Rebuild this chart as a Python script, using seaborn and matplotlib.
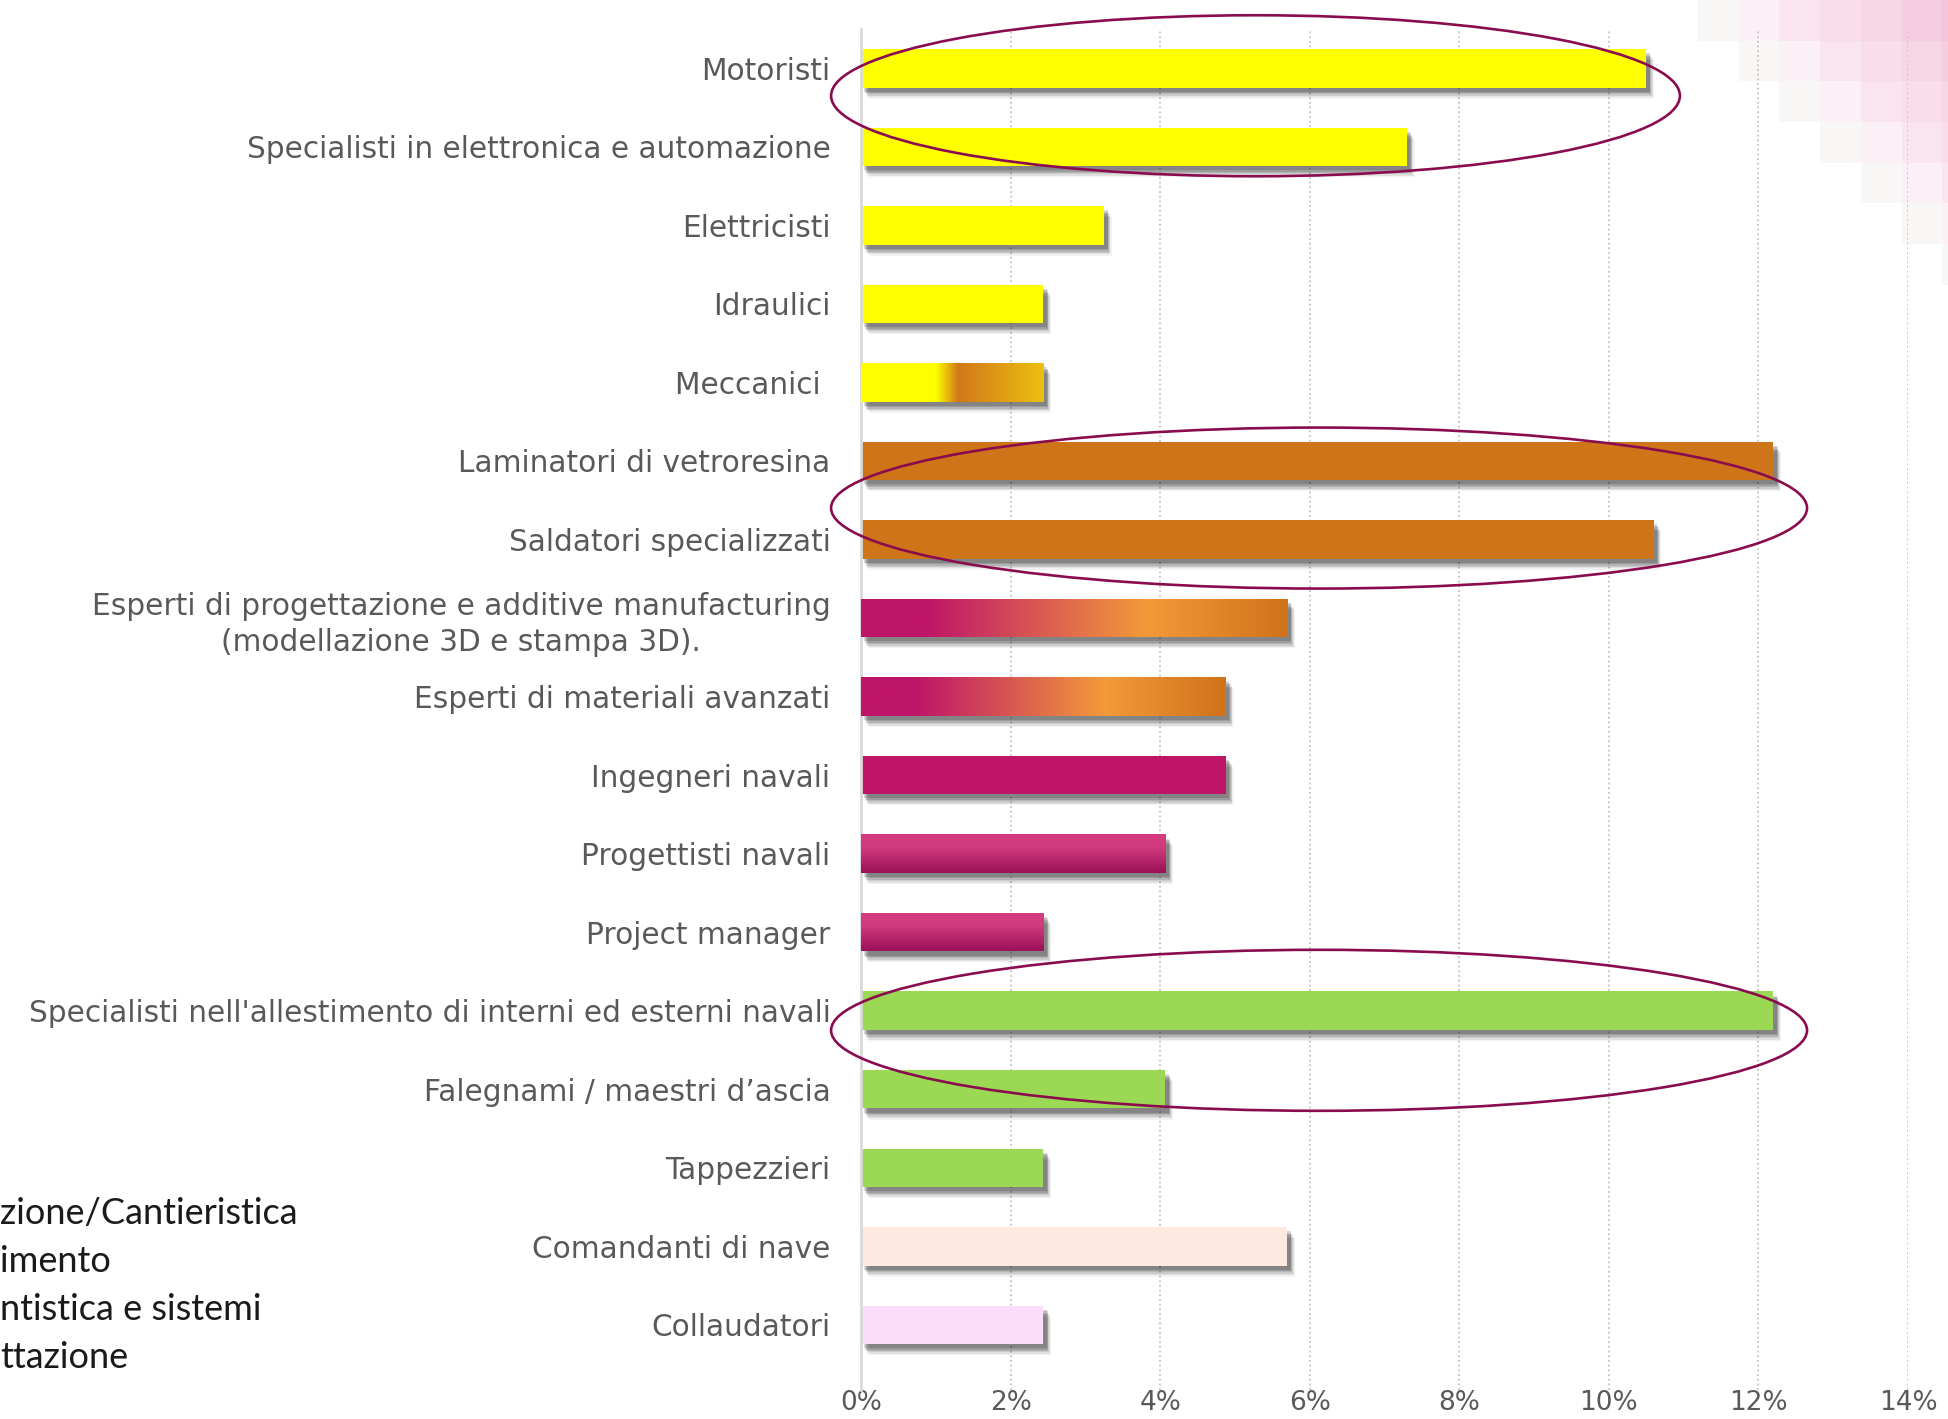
"""Profili professionali ricercati: quota percentuale per figura, con gruppi evidenziati."""

import matplotlib.pyplot as plt
import numpy as np
import seaborn as sns
from matplotlib import patheffects as pe
from matplotlib.colors import LinearSegmentedColormap, to_rgba
from matplotlib.patches import Ellipse

# --- dati ---------------------------------------------------------------
profili = [
    "Motoristi",
    "Specialisti in elettronica e automazione",
    "Elettricisti",
    "Idraulici",
    "Meccanici ",
    "Laminatori di vetroresina",
    "Saldatori specializzati",
    "Esperti di progettazione e additive manufacturing\n(modellazione 3D e stampa 3D).",
    "Esperti di materiali avanzati",
    "Ingegneri navali",
    "Progettisti navali",
    "Project manager",
    "Specialisti nell'allestimento di interni ed esterni navali",
    "Falegnami / maestri d\u2019ascia",
    "Tappezzieri",
    "Comandanti di nave",
    "Collaudatori",
]
quote = [10.5, 7.3, 3.25, 2.44, 2.44, 12.2, 10.6, 5.7, 4.88, 4.88, 4.07, 2.44,
         12.2, 4.07, 2.44, 5.7, 2.44]
colori = [
    "#FFFF00", "#FFFF00", "#FFFF00", "#FFFF00", "#FFFF00",
    "#CF7519", "#CF7519",
    "#BE1569", "#BE1569", "#BE1569", "#C72A74", "#C72A74",
    "#9BD955", "#9BD955", "#9BD955",
    "#FDE9DF", "#FBDDFB",
]
# sfumature (indice barra -> punti di colore)
sfumature_orizzontali = {
    4: [(0.0, "#FFFF00"), (0.41, "#FFFF00"), (0.53, "#D2781A"), (1.0, "#EBC010")],
    7: [(0.0, "#BE1569"), (0.15, "#BE1569"), (0.67, "#F39A3A"), (1.0, "#D0721A")],
    8: [(0.0, "#BE1569"), (0.15, "#BE1569"), (0.67, "#F39A3A"), (1.0, "#D0721A")],
}
sfumature_verticali = {
    10: [(0.0, "#D63B81"), (0.35, "#D13A7E"), (1.0, "#991158")],
    11: [(0.0, "#D63B81"), (0.35, "#D13A7E"), (1.0, "#991158")],
}
gruppi_evidenziati = [(0, 1), (5, 6), (12, 13)]
scarto_ellissi = [-0.15, 0.1, -0.25]

legenda_tagliata = ["zione/Cantieristica", "imento", "ntistica e sistemi", "ttazione"]
toni_decoro = ["#F8F7F6", "#FBF0F5", "#FAE4EE", "#F9DEE9", "#F7D6E4", "#F6CCE0", "#F4C4DA"]

ticks_x = np.arange(0, 15, 2)

# --- figura -------------------------------------------------------------
sns.set_theme(style="white")
plt.rcParams["font.family"] = ["DejaVu Sans"]

W, H = 1948, 1419
fig = plt.figure(figsize=(W / 100, H / 100), dpi=100)

# decorazione a quadretti rosa in alto a destra (sotto il grafico)
cella = 40.7
n = len(toni_decoro)
deco = fig.add_axes([1698 / W, 1 - n * cella / H, n * cella / W, n * cella / H], zorder=0)
img = np.zeros((n, n, 4))
for r in range(n):
    for c in range(r, n):
        img[r, c] = to_rgba(toni_decoro[c - r])
deco.imshow(img, interpolation="nearest", aspect="auto", extent=(0, n, n, 0))
deco.axis("off")

ax = fig.add_axes([861 / W, 1 - 1390 / H, (1908 - 861) / W, (1390 - 29) / H], zorder=1)
ax.patch.set_alpha(0)

sns.barplot(
    x=quote,
    y=profili,
    hue=profili,
    palette=colori,
    legend=False,
    saturation=1,
    width=0.49,
    ax=ax,
    orient="h",
)

# ombra morbida: più strati sovrapposti con trasparenza bassa
ombra = [
    pe.SimplePatchShadow(offset=(dx, -dy), shadow_rgbFace="#000000", alpha=a)
    for dx, dy, a in [(5.5, 8, 0.05), (4.5, 7, 0.07), (4, 6, 0.09), (3.5, 5, 0.11),
                      (3, 4, 0.13), (2.5, 3, 0.15)]
] + [pe.Normal()]

barre = [cont.patches[0] for cont in ax.containers]
for i, barra in enumerate(barre):
    barra.set_path_effects(ombra)
    barra.set_edgecolor("none")
    x0, y0 = barra.get_x(), barra.get_y()
    x1, y1 = x0 + barra.get_width(), y0 + barra.get_height()
    if i in sfumature_orizzontali:
        cmap = LinearSegmentedColormap.from_list(f"h{i}", sfumature_orizzontali[i])
        grad = np.linspace(0, 1, 256).reshape(1, -1)
        im = ax.imshow(grad, cmap=cmap, aspect="auto", extent=(x0, x1, y1, y0),
                       interpolation="bicubic", zorder=3)
        im.set_clip_path(barra)
    elif i in sfumature_verticali:
        cmap = LinearSegmentedColormap.from_list(f"v{i}", sfumature_verticali[i])
        grad = np.linspace(0, 1, 256).reshape(-1, 1)
        im = ax.imshow(grad, cmap=cmap, aspect="auto", extent=(x0, x1, y1, y0),
                       interpolation="bicubic", zorder=3)
        im.set_clip_path(barra)

# ellissi che evidenziano i gruppi principali
for (a, b), dy in zip(gruppi_evidenziati, scarto_ellissi):
    destra = max(quote[a], quote[b]) + 0.45
    sinistra = -0.4
    el = Ellipse(((sinistra + destra) / 2, (a + b) / 2 + dy), destra - sinistra, 2.05,
                 fill=False, edgecolor="#8A0C4E", lw=1.9, clip_on=False, zorder=5)
    ax.add_patch(el)

ax.set_xlim(0, 14)
ax.set_ylim(16.83, -0.5)
ax.set_xticks(ticks_x)
ax.set_xticklabels([f"{t}%" for t in ticks_x])
ax.set_xlabel("")
ax.set_ylabel("")

ax.xaxis.grid(True, linestyle=(0, (1, 1.6)), color="#C4C4C4", lw=1.3)
ax.yaxis.grid(False)
ax.set_axisbelow(True)
for lato in ["top", "right", "bottom"]:
    ax.spines[lato].set_visible(False)
ax.spines["left"].set_color("#D9D9D9")
ax.spines["left"].set_linewidth(2)

ax.tick_params(axis="y", length=0, pad=22, labelsize=21.3, labelcolor="#595959")
ax.tick_params(axis="x", length=0, pad=0, labelsize=19, labelcolor="#595959")
for lab in ax.get_yticklabels():
    lab.set_multialignment("center")
    lab.set_linespacing(1.3)

# frammenti di legenda tagliati sul margine sinistro
for testo, yp in zip(legenda_tagliata, [1214, 1261, 1310, 1358]):
    fig.text(0.0, 1 - yp / H, testo, ha="left", va="center", fontsize=26,
             family=["Lato", "DejaVu Sans"], color="#1A1A1A")

fig.savefig("out.png", dpi=100)
plt.close(fig)
